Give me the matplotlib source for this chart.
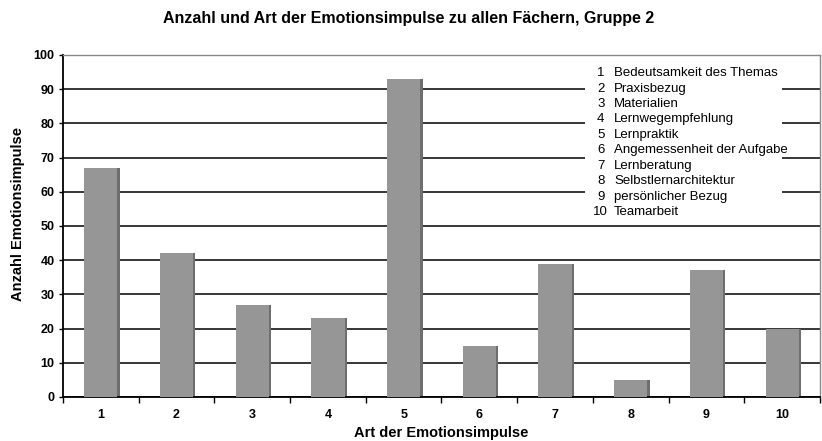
import numpy as np
import matplotlib
matplotlib.use("Agg")
import matplotlib.pyplot as plt

plt.rcParams['font.family'] = ['Liberation Sans', 'DejaVu Sans']

# Daten
kategorien = [1, 2, 3, 4, 5, 6, 7, 8, 9, 10]
anzahl = [67, 42, 27, 23, 93, 15, 39, 5, 37, 20]
legende = ["Bedeutsamkeit des Themas", "Praxisbezug", "Materialien",
           "Lernwegempfehlung", "Lernpraktik", "Angemessenheit der Aufgabe",
           "Lernberatung", "Selbstlernarchitektur", "persönlicher Bezug",
           "Teamarbeit"]
y_ticks = [0, 10, 20, 30, 40, 50, 60, 70, 80, 90, 100]

fig = plt.figure(figsize=(8.22, 4.41), dpi=100)
ax = fig.add_axes([0.0766, 0.0998, 0.9210, 0.7755])

x = np.array(kategorien)
# Schatten und Balken
ax.bar(x + 0.03, anzahl, width=0.44, color="#6e6e6e", zorder=2)
ax.bar(x, anzahl, width=0.44, color="#969696", zorder=3)

ax.set_xlim(0.5, 10.5)
ax.set_ylim(0, 100)

# Gitterlinien
ax.set_yticks(y_ticks)
ax.yaxis.grid(True, color="black", linewidth=1.1, zorder=1)
ax.set_axisbelow(True)

ax.set_xticks(x)
ax.set_xticks(np.arange(0.5, 11, 1), minor=True)
ax.tick_params(axis="x", which="major", length=0, pad=9, labelsize=9)
ax.tick_params(axis="x", which="minor", length=4, width=1, direction="out")
ax.tick_params(axis="y", length=3, width=1, pad=3, labelsize=9)
for lab in ax.get_xticklabels() + ax.get_yticklabels():
    lab.set_fontweight("bold")

for s in ["left", "bottom"]:
    ax.spines[s].set_color("black")
    ax.spines[s].set_linewidth(1.3)
for s in ["top", "right"]:
    ax.spines[s].set_color("#888888")
    ax.spines[s].set_linewidth(1)

ax.set_xlabel("Art der Emotionsimpulse", fontsize=10.5, fontweight="bold", labelpad=3)
ax.set_ylabel("Anzahl Emotionsimpulse", fontsize=10.5, fontweight="bold")
ax.yaxis.set_label_coords(-0.050, 0.535)

fig.text(0.497, 0.958, "Anzahl und Art der Emotionsimpulse zu allen Fächern, Gruppe 2",
         ha="center", va="center", fontsize=11.5, fontweight="bold")

# Legende als Textblock
box = plt.Rectangle((0.69, 0.51), 0.26, 0.47, transform=ax.transAxes,
                    facecolor="white", edgecolor="none", zorder=4)
ax.add_patch(box)
for i, name in enumerate(legende):
    yy = 0.947 - i * 0.0451
    ax.text(0.7054 if kategorien[i] < 10 else 0.700, yy, str(kategorien[i]),
            transform=ax.transAxes, fontsize=9.5, va="center", ha="left", zorder=5)
    ax.text(0.728, yy, name, transform=ax.transAxes, fontsize=9.5,
            va="center", ha="left", zorder=5)

fig.savefig("out.png", dpi=100)
